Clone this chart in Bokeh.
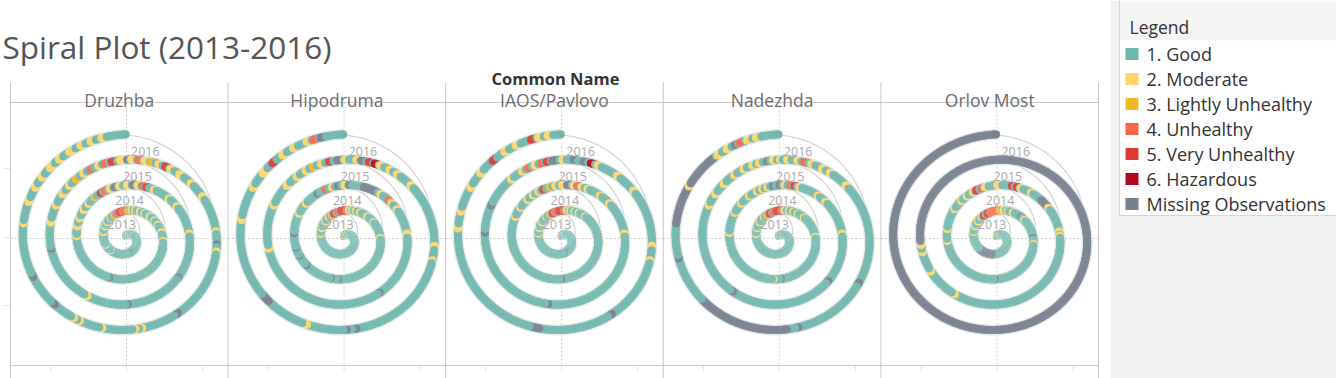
import numpy as np
from bokeh.plotting import figure
from bokeh.models import Range1d, ColumnDataSource
from bokeh.core.properties import value
from bokeh.embed import file_html
from bokeh.resources import INLINE

# ---------------- data ----------------
STATIONS = ["Druzhba", "Hipodruma", "IAOS/Pavlovo", "Nadezhda", "Orlov Most"]
YEARS = [2013, 2014, 2015, 2016]
CATEGORIES = ["1. Good", "2. Moderate", "3. Lightly Unhealthy", "4. Unhealthy",
              "5. Very Unhealthy", "6. Hazardous", "Missing Observations"]
CAT_COLORS = ["#6fb6ac", "#fcd56a", "#efb82b", "#f6674a", "#dc3a33", "#b0081f", "#777f8d"]

# Non-"Good" runs:
# (year, first day of year (0-based), number of days, category 1..7 ; 7 = missing)
DRUZHBA = [
    (2013, 0, 8, 7), (2013, 8, 6, 2), (2013, 36, 4, 2), (2013, 52, 3, 2), (2013, 70, 4, 2),
    (2013, 176, 3, 7), (2013, 236, 3, 2), (2013, 256, 3, 2), (2013, 290, 5, 2), (2013, 305, 4, 2),
    (2013, 316, 4, 2), (2013, 328, 3, 2), (2013, 338, 4, 3), (2013, 345, 5, 4), (2013, 351, 7, 5),
    (2013, 359, 6, 4),
    (2014, 0, 3, 4), (2014, 3, 4, 3), (2014, 9, 4, 2), (2014, 16, 3, 2), (2014, 25, 4, 2),
    (2014, 34, 3, 2), (2014, 45, 4, 2), (2014, 56, 3, 2), (2014, 66, 3, 2), (2014, 80, 4, 2),
    (2014, 95, 3, 2), (2014, 205, 3, 7), (2014, 276, 3, 2), (2014, 288, 5, 2), (2014, 298, 4, 2),
    (2014, 309, 4, 2), (2014, 318, 3, 2), (2014, 328, 3, 3), (2014, 336, 3, 5), (2014, 341, 4, 4),
    (2014, 347, 4, 2), (2014, 352, 4, 7), (2014, 357, 4, 2),
    (2015, 0, 5, 2), (2015, 6, 4, 7), (2015, 11, 4, 2), (2015, 16, 3, 4), (2015, 20, 3, 5),
    (2015, 28, 3, 2), (2015, 45, 3, 2), (2015, 56, 3, 2), (2015, 86, 3, 2), (2015, 130, 2, 7),
    (2015, 181, 2, 7), (2015, 215, 3, 2), (2015, 265, 2, 7), (2015, 286, 4, 2), (2015, 300, 3, 2),
    (2015, 310, 4, 2), (2015, 318, 3, 2), (2015, 325, 4, 3), (2015, 332, 3, 2), (2015, 338, 3, 4),
    (2015, 344, 3, 2), (2015, 349, 3, 4), (2015, 354, 4, 5), (2015, 360, 5, 2),
    (2016, 0, 2, 7), (2016, 3, 4, 2), (2016, 8, 3, 4), (2016, 12, 4, 2), (2016, 17, 3, 3),
    (2016, 22, 3, 2), (2016, 27, 3, 5), (2016, 31, 3, 2), (2016, 38, 4, 2), (2016, 48, 3, 2),
    (2016, 60, 3, 2), (2016, 86, 2, 2), (2016, 95, 2, 7), (2016, 100, 2, 2), (2016, 149, 3, 7),
    (2016, 173, 2, 2), (2016, 177, 2, 2), (2016, 197, 2, 2), (2016, 211, 2, 2), (2016, 215, 2, 2),
    (2016, 229, 3, 7), (2016, 250, 3, 7), (2016, 283, 2, 2), (2016, 296, 3, 2), (2016, 305, 3, 2),
    (2016, 312, 3, 2), (2016, 319, 4, 2), (2016, 326, 3, 2), (2016, 333, 4, 2), (2016, 340, 3, 2),
    (2016, 346, 3, 2), (2016, 352, 3, 2),
]
HIPODRUMA = [
    (2013, 0, 8, 7), (2013, 10, 8, 2), (2013, 40, 5, 2), (2013, 60, 3, 2), (2013, 286, 4, 2),
    (2013, 300, 5, 2), (2013, 318, 4, 2), (2013, 330, 4, 2), (2013, 338, 4, 3), (2013, 344, 5, 5),
    (2013, 352, 5, 4), (2013, 359, 6, 5),
    (2014, 0, 4, 5), (2014, 4, 4, 4), (2014, 9, 4, 2), (2014, 15, 3, 2), (2014, 22, 3, 2),
    (2014, 30, 4, 2), (2014, 45, 4, 2), (2014, 60, 3, 2), (2014, 90, 3, 2), (2014, 190, 2, 7),
    (2014, 200, 2, 7), (2014, 236, 3, 7), (2014, 251, 2, 7), (2014, 262, 2, 7), (2014, 280, 3, 7),
    (2014, 304, 3, 2), (2014, 318, 3, 2), (2014, 335, 3, 7), (2014, 345, 3, 4), (2014, 352, 3, 2),
    (2014, 358, 4, 7),
    (2015, 0, 4, 2), (2015, 5, 3, 7), (2015, 20, 15, 7), (2015, 38, 3, 2), (2015, 48, 3, 4),
    (2015, 52, 3, 2), (2015, 60, 3, 2), (2015, 86, 4, 2), (2015, 150, 2, 7), (2015, 265, 3, 2),
    (2015, 300, 3, 2), (2015, 318, 4, 2), (2015, 328, 3, 2), (2015, 336, 3, 2), (2015, 342, 3, 3),
    (2015, 348, 3, 2), (2015, 354, 3, 5), (2015, 360, 4, 7),
    (2016, 0, 3, 2), (2016, 8, 3, 2), (2016, 12, 3, 7), (2016, 17, 3, 5), (2016, 21, 3, 6),
    (2016, 25, 3, 2), (2016, 32, 3, 2), (2016, 38, 3, 2), (2016, 50, 3, 2), (2016, 96, 3, 2),
    (2016, 106, 2, 2), (2016, 175, 3, 7), (2016, 181, 2, 7), (2016, 205, 3, 2), (2016, 232, 6, 7),
    (2016, 285, 3, 2), (2016, 305, 3, 2), (2016, 315, 4, 2), (2016, 323, 3, 5), (2016, 330, 3, 2),
    (2016, 337, 3, 2), (2016, 345, 3, 2), (2016, 349, 3, 4), (2016, 353, 3, 7),
]
IAOS_PAVLOVO = [
    (2013, 0, 8, 7), (2013, 10, 6, 2), (2013, 40, 4, 2), (2013, 175, 3, 7), (2013, 286, 4, 2),
    (2013, 300, 4, 2), (2013, 315, 4, 2), (2013, 330, 3, 2), (2013, 340, 4, 3), (2013, 346, 5, 5),
    (2013, 352, 6, 4), (2013, 359, 6, 5),
    (2014, 0, 4, 5), (2014, 4, 4, 4), (2014, 10, 4, 2), (2014, 16, 3, 2), (2014, 24, 3, 2),
    (2014, 32, 3, 2), (2014, 45, 3, 2), (2014, 183, 2, 7), (2014, 300, 3, 2), (2014, 312, 3, 2),
    (2014, 324, 3, 2), (2014, 332, 3, 2), (2014, 339, 3, 2), (2014, 345, 3, 5), (2014, 352, 3, 3),
    (2014, 358, 4, 2),
    (2015, 0, 5, 2), (2015, 5, 5, 7), (2015, 12, 3, 2), (2015, 16, 3, 4), (2015, 20, 3, 2),
    (2015, 26, 3, 2), (2015, 40, 3, 2), (2015, 52, 3, 2), (2015, 86, 3, 2), (2015, 193, 3, 7),
    (2015, 278, 3, 7), (2015, 300, 3, 7), (2015, 325, 3, 2), (2015, 335, 3, 2), (2015, 340, 3, 4),
    (2015, 345, 3, 2), (2015, 350, 3, 4), (2015, 354, 3, 5), (2015, 358, 5, 7),
    (2016, 0, 3, 2), (2016, 8, 3, 7), (2016, 15, 3, 7), (2016, 20, 3, 6), (2016, 25, 3, 2),
    (2016, 40, 3, 2), (2016, 55, 3, 2), (2016, 96, 3, 2), (2016, 106, 2, 2), (2016, 150, 3, 7),
    (2016, 196, 6, 7), (2016, 280, 3, 2), (2016, 290, 3, 2), (2016, 305, 3, 2), (2016, 315, 3, 2),
    (2016, 325, 3, 5), (2016, 333, 3, 2), (2016, 340, 3, 2), (2016, 349, 3, 5), (2016, 353, 3, 2),
    (2016, 358, 3, 2),
]
NADEZHDA = [
    (2013, 0, 8, 7), (2013, 10, 6, 2), (2013, 40, 4, 2), (2013, 285, 4, 2), (2013, 300, 4, 2),
    (2013, 315, 4, 2), (2013, 330, 3, 2), (2013, 338, 4, 3), (2013, 345, 5, 5), (2013, 352, 6, 4),
    (2013, 359, 6, 5),
    (2014, 0, 4, 5), (2014, 4, 4, 4), (2014, 10, 4, 2), (2014, 18, 3, 2), (2014, 26, 3, 2),
    (2014, 35, 3, 2), (2014, 48, 3, 2), (2014, 88, 3, 2), (2014, 180, 2, 7), (2014, 190, 2, 2),
    (2014, 280, 3, 2), (2014, 305, 3, 2), (2014, 318, 3, 2), (2014, 330, 3, 2), (2014, 340, 3, 2),
    (2014, 346, 3, 2), (2014, 352, 3, 2), (2014, 358, 3, 7),
    (2015, 0, 3, 7), (2015, 5, 3, 2), (2015, 11, 3, 4), (2015, 15, 3, 5), (2015, 20, 3, 2),
    (2015, 40, 3, 2), (2015, 50, 3, 2), (2015, 86, 3, 2), (2015, 134, 3, 7), (2015, 222, 3, 7),
    (2015, 300, 3, 2), (2015, 310, 3, 2), (2015, 320, 3, 2), (2015, 330, 3, 2), (2015, 338, 3, 2),
    (2015, 345, 3, 2), (2015, 350, 3, 2), (2015, 356, 2, 7), (2015, 360, 3, 2),
    (2016, 0, 2, 2), (2016, 5, 3, 2), (2016, 12, 3, 2), (2016, 17, 3, 4), (2016, 22, 3, 2),
    (2016, 30, 3, 2), (2016, 36, 3, 2), (2016, 50, 3, 2), (2016, 122, 3, 7), (2016, 171, 2, 7),
    (2016, 178, 56, 7), (2016, 262, 2, 7), (2016, 283, 46, 7), (2016, 306, 2, 2), (2016, 330, 3, 2),
    (2016, 336, 3, 2), (2016, 341, 2, 7), (2016, 344, 3, 4), (2016, 348, 3, 2), (2016, 353, 3, 2),
]
ORLOV_MOST = [
    (2013, 0, 8, 7), (2013, 10, 6, 2), (2013, 40, 4, 2), (2013, 200, 45, 7), (2013, 290, 4, 2),
    (2013, 305, 4, 2), (2013, 318, 4, 2), (2013, 330, 4, 2), (2013, 336, 5, 5), (2013, 345, 6, 5),
    (2013, 352, 8, 4), (2013, 360, 5, 4),
    (2014, 0, 5, 4), (2014, 5, 5, 3), (2014, 12, 5, 2), (2014, 20, 3, 2), (2014, 30, 4, 2),
    (2014, 47, 3, 7), (2014, 55, 3, 2), (2014, 90, 3, 7), (2014, 100, 3, 2), (2014, 185, 2, 7),
    (2014, 270, 3, 2), (2014, 285, 3, 2), (2014, 310, 3, 2), (2014, 322, 3, 2), (2014, 330, 3, 2),
    (2014, 338, 3, 2), (2014, 342, 4, 5), (2014, 348, 3, 4), (2014, 352, 4, 2),
    (2015, 0, 5, 2), (2015, 15, 3, 5), (2015, 20, 3, 5), (2015, 24, 3, 2), (2015, 35, 3, 2),
    (2015, 48, 10, 7), (2015, 58, 3, 2), (2015, 84, 3, 2), (2015, 88, 2, 2), (2015, 218, 3, 2),
    (2015, 245, 3, 2), (2015, 262, 3, 2), (2015, 268, 3, 2), (2015, 272, 93, 7),
    (2016, 0, 366, 7),
]
STATION_RUNS = [DRUZHBA, HIPODRUMA, IAOS_PAVLOVO, NADEZHDA, ORLOV_MOST]

# ---------------- figure ----------------
W, H = 1336, 378
p = figure(width=W, height=H, x_range=Range1d(0, W), y_range=Range1d(H, 0),
           x_axis_type=None, y_axis_type=None, toolbar_location=None,
           output_backend="svg", min_border=0)
p.grid.visible = False
p.outline_line_color = None
p.background_fill_color = "white"
p.border_fill_color = "white"

FONT = value("Open Sans")
GRID = "#c9c9c9"

# legend pane backgrounds
p.quad(left=[1110], right=[W], top=[0], bottom=[H], fill_color="#f2f2f2", line_color=None)
p.quad(left=[1119], right=[W + 2], top=[-1], bottom=[215], fill_color="white",
       line_color="#d6d6d6", line_width=1)
p.quad(left=[1119.5], right=[W], top=[0], bottom=[40], fill_color="#f5f5f5", line_color=None)

# panel geometry
left_edge, right_edge = 10.0, 1098.0
pw = (right_edge - left_edge) / len(STATIONS)
edges = [left_edge + i * pw for i in range(len(STATIONS) + 1)]
cxs = [e + 116 for e in edges[:-1]]
cy = 238.0
head_top, head_bot, plot_bot = 82.0, 102.0, 365.0

p.segment(x0=edges, y0=[head_top] * len(edges), x1=edges, y1=[H] * len(edges),
          line_color=GRID, line_width=1)
p.segment(x0=[left_edge, left_edge], y0=[head_bot, plot_bot], x1=[right_edge, right_edge],
          y1=[head_bot, plot_bot], line_color=GRID, line_width=1)
# crosshairs
p.segment(x0=cxs, y0=[head_bot] * 5, x1=cxs, y1=[plot_bot] * 5, line_color="#cfcfcf",
          line_dash="2 2", line_width=1)
p.segment(x0=edges[:-1], y0=[cy] * 5, x1=edges[1:], y1=[cy] * 5, line_color="#cfcfcf",
          line_dash="2 2", line_width=1)
# faint ticks
tx = []
for c in cxs:
    tx += [c - 76, c, c + 76]
p.segment(x0=tx, y0=[plot_bot + 1] * len(tx), x1=tx, y1=[plot_bot + 6] * len(tx),
          line_color="#e2e2e2", line_width=1)
p.segment(x0=[4, 4, 4], y0=[168, 237, 305], x1=[9, 9, 9], y1=[168, 237, 305],
          line_color="#e2e2e2", line_width=1)

# spiral geometry
R0, PITCH, SX = 2.5, 25.4, 1.06


def spiral_xy(cx, t):
    r = R0 + PITCH * t
    ang = 2 * np.pi * t
    return cx + SX * r * np.sin(ang), cy - r * np.cos(ang)


# guide circles and year labels
gxs, gys, lx, ly, ltxt = [], [], [], [], []
phi = np.linspace(0, 2 * np.pi, 240)
for cx in cxs:
    gcx, gcy = cx - 7, cy - 7
    for n, yr in enumerate(YEARS, start=1):
        R = PITCH * n - 5
        gxs.append(list(gcx + R * np.sin(phi)))
        gys.append(list(gcy - R * np.cos(phi)))
        d = R - 13
        a = np.deg2rad(18)
        lx.append(gcx + d * np.sin(a))
        ly.append(gcy - d * np.cos(a))
        ltxt.append(str(yr))
p.multi_line(xs=gxs, ys=gys, line_color="#d3d3d3", line_width=1.2)

# halo under the spiral
hx, hy = [], []
tt = np.linspace(0, 4, 1600)
for cx in cxs:
    x, y = spiral_xy(cx, tt)
    hx.append(list(x))
    hy.append(list(y))
p.multi_line(xs=hx, ys=hy, line_color="#e3e9ea", line_width=11)

# daily points
px, py, pc = [], [], []
for cx, runs in zip(cxs, STATION_RUNS):
    for k, yr in enumerate(YEARS):
        n = 366 if yr % 4 == 0 else 365
        cats = np.ones(n, dtype=int)
        for (ry, s, ln, c) in runs:
            if ry == yr:
                cats[s:min(s + ln, n)] = c
        t = k + (np.arange(n) + 0.5) / n
        x, y = spiral_xy(cx, t)
        px += list(x)
        py += list(y)
        pc += [CAT_COLORS[c - 1] for c in cats]
src = ColumnDataSource(dict(x=px, y=py, c=pc))
p.scatter("x", "y", source=src, size=8.2, fill_color="c", line_color="white",
          line_alpha=0.2, line_width=0.5)

# year labels
p.text(x=lx, y=ly, text=ltxt, text_font=FONT, text_font_size="12.5px", text_color="#a9a9a9",
       text_align="center", text_baseline="middle")

# titles and headers
p.text(x=[2], y=[46], text=["Spiral Plot (2013-2016)"], text_font=FONT, text_font_size="31.5px",
       text_color="#555555", text_align="left", text_baseline="alphabetic")
p.text(x=[555], y=[78], text=["Common Name"], text_font=FONT, text_font_size="16.5px",
       text_font_style="bold", text_color="#333333", text_align="center",
       text_baseline="alphabetic")
p.text(x=[(edges[i] + edges[i + 1]) / 2 for i in range(5)], y=[99] * 5, text=STATIONS,
       text_font=FONT, text_font_size="17.5px", text_color="#6e6e6e", text_align="center",
       text_baseline="alphabetic")

# legend
p.text(x=[1129], y=[26], text=["Legend"], text_font=FONT, text_font_size="17.5px",
       text_color="#333333", text_baseline="alphabetic")
ly_leg = [53.5 + 25 * i for i in range(len(CATEGORIES))]
p.rect(x=[1131.5] * len(CATEGORIES), y=ly_leg, width=13, height=12, fill_color=CAT_COLORS,
       line_color=None)
p.text(x=[1146] * len(CATEGORIES), y=ly_leg, text=CATEGORIES, text_font=FONT,
       text_font_size="18px", text_color="#333333", text_baseline="middle")

open("out.html", "w").write(file_html(p, INLINE))
